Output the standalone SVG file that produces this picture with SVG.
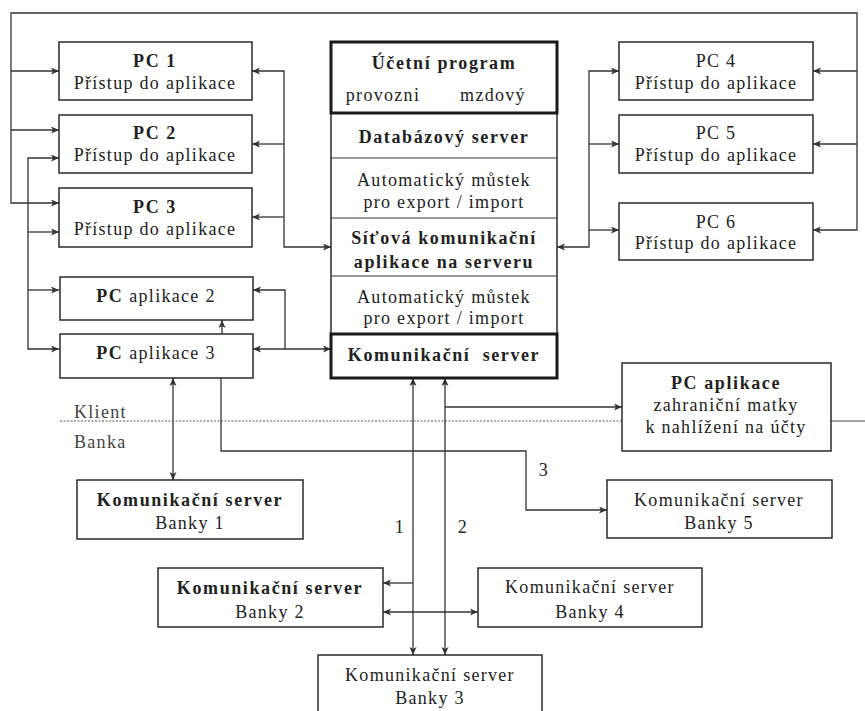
<svg xmlns="http://www.w3.org/2000/svg" width="865" height="711" viewBox="0 0 865 711">
<style>
.b{fill:#fff;stroke:#2a2a2a;stroke-width:1.5}
.k{fill:none;stroke:#1a1a1a;stroke-width:3}
.c{fill:none;stroke:#333;stroke-width:1.3}
text{font-family:"Times New Roman",Tinos,"Liberation Serif","Noto Serif","Nimbus Roman","FreeSerif",Times,serif;font-size:18px;fill:#222;letter-spacing:1.3px;text-anchor:middle}
.t{font-weight:bold;letter-spacing:1.6px}
.l{text-anchor:start;fill:#444}
</style>
<defs>
<marker id="a" markerUnits="userSpaceOnUse" markerWidth="10" markerHeight="8" refX="8" refY="3.5" orient="auto-start-reverse">
<path d="M0,0 L8,3.5 L0,7 L2,3.5 z" fill="#333"/>
</marker>
</defs>
<g id="connectors" class="c">
<path d="M59,203 H11 V13 H857 V230 H813" marker-start="url(#a)" marker-end="url(#a)"/>
<path d="M11,71 H59" marker-end="url(#a)"/>
<path d="M11,130 H59" marker-end="url(#a)"/>
<path d="M857,71 H813" marker-end="url(#a)"/>
<path d="M857,144 H813" marker-end="url(#a)"/>
<path d="M59,158 H28 V349 H59" marker-start="url(#a)" marker-end="url(#a)"/>
<path d="M28,232 H59" marker-end="url(#a)"/>
<path d="M28,290 H59" marker-end="url(#a)"/>
<path d="M252,71 H284 V247 H331" marker-start="url(#a)" marker-end="url(#a)"/>
<path d="M284,144 H252" marker-end="url(#a)"/>
<path d="M284,217 H252" marker-end="url(#a)"/>
<path d="M253,349 H331" marker-start="url(#a)" marker-end="url(#a)"/>
<path d="M285,349 V290 H253" marker-end="url(#a)"/>
<path d="M222,334 V320" marker-end="url(#a)"/>
<path d="M619,71 H589 V247 H557" marker-start="url(#a)" marker-end="url(#a)"/>
<path d="M589,144 H619" marker-end="url(#a)"/>
<path d="M589,230 H619" marker-end="url(#a)"/>
<path d="M173,378 V480" marker-start="url(#a)" marker-end="url(#a)"/>
<path d="M221,378 V451 H526 V510 H607" marker-end="url(#a)"/>
<path d="M413,378 V655" marker-start="url(#a)" marker-end="url(#a)"/>
<path d="M413,583 H383" marker-end="url(#a)"/>
<path d="M445,378 V655" marker-start="url(#a)" marker-end="url(#a)"/>
<path d="M445,407 H622" marker-end="url(#a)"/>
<path d="M383,612 H478" marker-start="url(#a)" marker-end="url(#a)"/>
</g>
<g id="divider">
<path d="M60,421 H622" fill="none" stroke="#555" stroke-width="1" stroke-dasharray="2 1.5"/>
<path d="M831,421 H865" fill="none" stroke="#444" stroke-width="1.2"/>
<text class="l" x="74" y="418">Klient</text>
<text class="l" x="74" y="448">Banka</text>
</g>
<g id="labels">
<text x="400" y="533">1</text>
<text x="463" y="533">2</text>
<text x="544" y="476">3</text>
</g>
<g id="pc1"><rect class="b" x="59" y="42" width="193" height="58"/><text class="t" x="155" y="67">PC 1</text><text x="155" y="89">Přístup do aplikace</text></g>
<g id="pc2"><rect class="b" x="59" y="115" width="193" height="58"/><text class="t" x="155" y="139">PC 2</text><text x="155" y="161">Přístup do aplikace</text></g>
<g id="pc3"><rect class="b" x="59" y="188" width="193" height="59"/><text class="t" x="155" y="213">PC 3</text><text x="155" y="235">Přístup do aplikace</text></g>
<g id="pcapl2"><rect class="b" x="60" y="277" width="193" height="43"/><text x="156" y="302"><tspan class="t">PC</tspan> aplikace 2</text></g>
<g id="pcapl3"><rect class="b" x="60" y="334" width="193" height="44"/><text x="156" y="359"><tspan class="t">PC</tspan> aplikace 3</text></g>
<g id="pc4"><rect class="b" x="619" y="42" width="194" height="58"/><text x="716" y="67">PC 4</text><text x="716" y="89">Přístup do aplikace</text></g>
<g id="pc5"><rect class="b" x="619" y="115" width="194" height="58"/><text x="716" y="139">PC 5</text><text x="716" y="161">Přístup do aplikace</text></g>
<g id="pc6"><rect class="b" x="619" y="203" width="194" height="57"/><text x="716" y="228">PC 6</text><text x="716" y="249">Přístup do aplikace</text></g>
<g id="server">
<rect class="b" x="331" y="42" width="226" height="336"/>
<path d="M331,158 H557 M331,218 H557 M331,276 H557" fill="none" stroke="#333" stroke-width="1.2"/>
<rect class="k" x="331" y="42" width="226" height="71"/>
<rect class="k" x="331" y="334" width="226" height="44"/>
<text class="t" x="444" y="69">Účetní program</text>
<text x="383" y="101">provozni</text>
<text x="493" y="101">mzdový</text>
<text class="t" x="444" y="143">Databázový server</text>
<text x="444" y="186">Automatický můstek</text>
<text x="444" y="208">pro export / import</text>
<text class="t" x="444" y="244">Síťová komunikační</text>
<text class="t" x="444" y="268">aplikace na serveru</text>
<text x="444" y="303">Automatický můstek</text>
<text x="444" y="324">pro export / import</text>
<text class="t" x="444" y="361" xml:space="preserve">Komunikační  server</text>
</g>
<g id="matka"><rect class="b" x="622" y="363" width="209" height="88"/><text class="t" x="726" y="389">PC aplikace</text><text x="726" y="411">zahraniční matky</text><text x="726" y="433">k nahlížení na účty</text></g>
<g id="banka1"><rect class="b" x="77" y="480" width="226" height="59"/><text class="t" x="190" y="506">Komunikační server</text><text x="190" y="529">Banky 1</text></g>
<g id="banka5"><rect class="b" x="607" y="480" width="225" height="58"/><text x="719" y="506">Komunikační server</text><text x="719" y="529">Banky 5</text></g>
<g id="banka2"><rect class="b" x="158" y="568" width="225" height="59"/><text class="t" x="270" y="594">Komunikační server</text><text x="270" y="618">Banky 2</text></g>
<g id="banka4"><rect class="b" x="478" y="568" width="224" height="59"/><text x="590" y="593">Komunikační server</text><text x="590" y="618">Banky 4</text></g>
<g id="banka3"><rect class="b" x="318" y="655" width="224" height="70"/><text x="430" y="681">Komunikační server</text><text x="430" y="704">Banky 3</text></g>
</svg>
